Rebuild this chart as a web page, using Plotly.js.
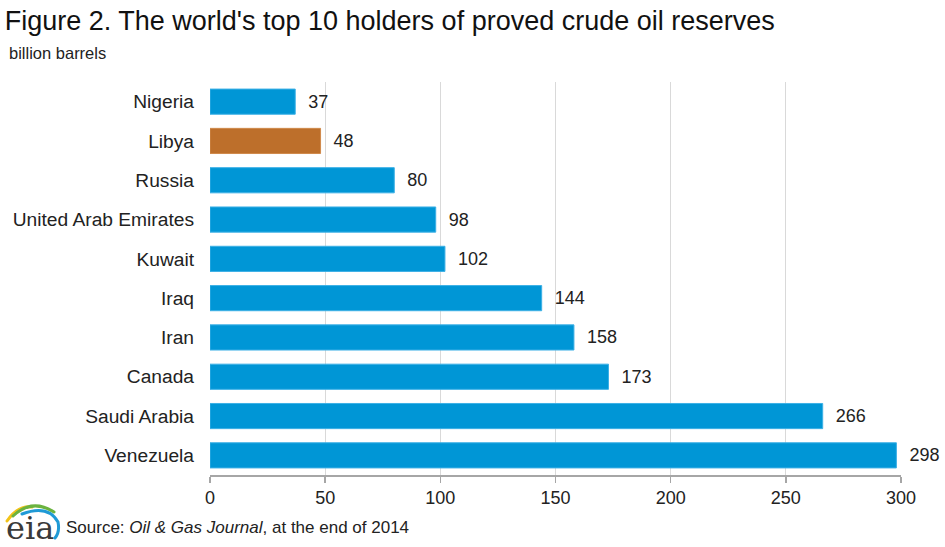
<!DOCTYPE html>
<html><head><meta charset="utf-8">
<script src="https://cdn.plot.ly/plotly-3.0.1.min.js"></script>
<style>html,body{margin:0;padding:0;background:#fff}#chart{width:945px;height:547px}</style>
</head><body><div id="chart"></div>
<script>
const countries = ["Venezuela","Saudi Arabia","Canada","Iran","Iraq","Kuwait","United Arab Emirates","Russia","Libya","Nigeria"];
const reserves = [298,266,173,158,144,102,98,80,48,37];
const highlight = "Libya";
const xTicks = [0,50,100,150,200,250,300];

const blue = "#0096d6", orange = "#bd6f2b";
const colors = countries.map(c => c === highlight ? orange : blue);
const lines = countries.map(c => c === highlight ? "#d08a4c" : "#3cb0e6");
const FONT = "Liberation Sans, Arial, sans-serif";

const trace = {
  type: "bar", orientation: "h",
  x: reserves, y: countries,
  marker: {color: colors, line: {color: lines, width: 1}},
  text: reserves.map(v => "\u00a0\u00a0" + v), textposition: "outside", cliponaxis: false,
  textfont: {family: FONT, size: 18, color: "#222"},
  hoverinfo: "none"
};

const layout = {
  width: 945, height: 547,
  margin: {l: 210, r: 44, t: 82, b: 72},
  paper_bgcolor: "#fff", plot_bgcolor: "#fff",
  bargap: 0.36,
  showlegend: false,
  font: {family: FONT, color: "#222"},
  title: {text: "Figure 2. The world's top 10 holders of proved crude oil reserves",
    x: 0.005, xanchor: "left", y: 0.963, yanchor: "middle",
    font: {size: 27, color: "#111", family: FONT}},
  xaxis: {range: [0, 300], tickvals: xTicks, ticktext: xTicks.map(String),
    showgrid: true, gridcolor: "#d9d9d9", gridwidth: 1,
    showline: true, linecolor: "#a6a6a6", linewidth: 1.5,
    ticks: "outside", tickcolor: "#a6a6a6", ticklen: 6, tickwidth: 1.5,
    tickfont: {size: 18, color: "#222"}, zeroline: false, fixedrange: true},
  yaxis: {showgrid: false, showline: false, zeroline: false, ticks: "",
    ticklabelstandoff: 15,
    tickfont: {size: 19.2, color: "#222"}, fixedrange: true, automargin: false},
  annotations: [
    {text: "billion barrels", xref: "paper", yref: "paper", x: 0, y: 1.0, xanchor: "left", yanchor: "middle",
     xshift: -203, yshift: 29, showarrow: false, font: {size: 16.5, color: "#222"}},
    {text: "Source: <i>Oil &amp; Gas Journal</i>, at the end of 2014", xref: "paper", yref: "paper",
     x: 0, y: 0, xanchor: "left", yanchor: "middle", xshift: -146, yshift: -52,
     showarrow: false, font: {size: 17, color: "#222"}},
    {text: "eia", xref: "paper", yref: "paper", x: 0, y: 0, xanchor: "left", yanchor: "middle",
     xshift: -206, yshift: -53, showarrow: false,
     font: {size: 32, color: "#3a3a3a", family: "DejaVu Serif, Liberation Serif, serif"}}
  ]
};

Plotly.newPlot("chart", [trace], layout, {displayModeBar: false, staticPlot: true}).then(() => {
  const svgs = document.querySelectorAll("#chart .main-svg");
  const svg = svgs[svgs.length - 1];
  const ns = "http://www.w3.org/2000/svg";
  const g = document.createElementNS(ns, "g");
  const arcs = [
    {d: "M7,521 Q18,505 32,507", c: "#f2c318", w: 3},
    {d: "M13,516 Q32,498 54,512", c: "#6bb33f", w: 3},
    {d: "M22,514 Q48,504 58,522 Q60,532 55,538", c: "#1f9ad6", w: 3}
  ];
  arcs.forEach(a => {
    const p = document.createElementNS(ns, "path");
    p.setAttribute("d", a.d); p.setAttribute("fill", "none");
    p.setAttribute("stroke", a.c); p.setAttribute("stroke-width", a.w);
    p.setAttribute("stroke-linecap", "round");
    g.appendChild(p);
  });
  svg.appendChild(g);
});
</script></body></html>
